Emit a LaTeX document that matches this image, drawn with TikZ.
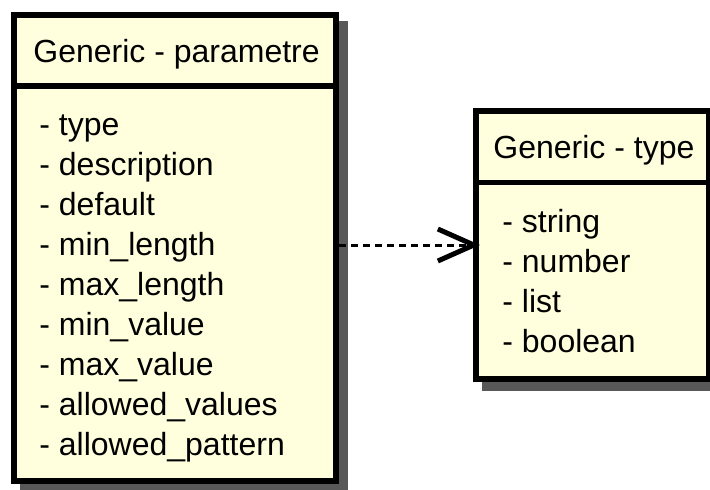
\documentclass[tikz,border=0pt]{standalone}
\usepackage{fontspec}
\setmainfont{Liberation Sans}
\usetikzlibrary{arrows.meta,shadows}

\definecolor{umlfill}{RGB}{255,255,222}
\definecolor{umlshadow}{RGB}{88,88,88}

\begin{document}
\begin{tikzpicture}[
    x=0.5pt, y=-0.5pt,
    classbox/.style={rectangle, draw=black, fill=umlfill, line width=3pt, inner sep=0pt,
        drop shadow={shadow xshift=4.5pt, shadow yshift=-4.5pt, opacity=1, fill=umlshadow, draw=umlshadow}},
    divider/.style={line width=2.75pt, black},
    title/.style={anchor=base west, inner sep=0pt, font=\fontsize{16}{20}\selectfont},
    item/.style={anchor=base west, inner sep=0pt, font=\fontsize{16}{20}\selectfont},
    depends/.style={line width=1.5pt, dash pattern=on 3.5pt off 2.5pt,
        -{Straight Barb[length=18pt, width=16pt, line width=2.5pt]}}
]

% Frame
\useasboundingbox (0,0) rectangle (710,489);

% Classes
\node[classbox, minimum width=161pt, minimum height=233pt] (param) at (175,248) {};
\node[classbox, minimum width=116.5pt, minimum height=134pt] (type) at (592.5,245) {};

% Header lines
\draw[divider] (param.west |- 0,86) -- (param.east |- 0,86);
\draw[divider] (type.west |- 0,182.5) -- (type.east |- 0,182.5);

% Titles
\node[title] (paramtitle) at (33,62) {Generic - parametre};
\node[title] (typetitle) at (493,158) {Generic - type};

% Attributes
\foreach \txt [count=\i] in {type, description, default, min\_length, max\_length,
    min\_value, max\_value, allowed\_values, allowed\_pattern}
    \node[item] (pa\i) at (39,{135+40.1*(\i-1)}) {- \txt};

\foreach \txt [count=\i] in {string, number, list, boolean}
    \node[item] (ty\i) at (502,{232+40.3*(\i-1)}) {- \txt};

% Dependency
\draw[depends, shorten >=-3.5pt] (type.west -| param.east) -- (type.west);

\end{tikzpicture}
\end{document}
